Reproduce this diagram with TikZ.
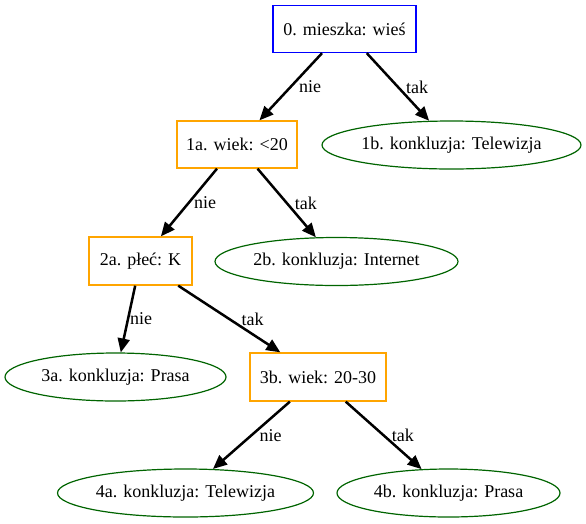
\documentclass[tikz,border=0pt]{standalone}
\usepackage{fontspec}
\setmainfont{Liberation Serif}
\usetikzlibrary{arrows.meta,shapes.geometric}

\definecolor{gvorange}{HTML}{FFA500}
\definecolor{gvblue}{HTML}{0000FF}
\definecolor{gvgreen}{HTML}{006400}

\tikzset{
  question/.style={draw=gvorange, line width=1.3pt, rectangle, inner sep=0pt,
    minimum height=47pt, font=\fontsize{18}{20}\selectfont},
  conclusion/.style={draw=gvgreen, line width=1.2pt, ellipse, inner sep=0pt,
    minimum height=48pt, font=\fontsize{18}{20}\selectfont},
  answer/.style={midway, anchor=west, inner sep=0pt, xshift=7pt,
    font=\fontsize{18}{20}\selectfont},
}

\begin{document}
\begin{tikzpicture}[x=1pt, y=-1pt, >={Triangle[length=14pt,width=12pt]}]
      \useasboundingbox (0, 0) rectangle (586, 523);

      \node[question, draw=gvblue, minimum width=143pt] (n0) at (344.5, 29) {0. mieszka: wieś};

      \node[question, minimum width=120pt] (n1a) at (237, 144.5) {1a. wiek: <20};
      \node[conclusion, minimum width=259pt] (n1b) at (451.5, 145) {1b. konkluzja: Telewizja};

      \node[question, minimum width=103pt, minimum height=48pt] (n2a) at (140.5, 261) {2a. płeć: K};
      \node[conclusion, minimum width=243pt] (n2b) at (336.5, 261.5) {2b. konkluzja: Internet};

      \node[conclusion, minimum width=221pt] (n3a) at (115.5, 377) {3a. konkluzja: Prasa};
      \node[question, minimum width=136pt, minimum height=48pt] (n3b) at (318, 377) {3b. wiek: 20-30};

      \node[conclusion, minimum width=256pt] (n4a) at (185.5, 493) {4a. konkluzja: Telewizja};
      \node[conclusion, minimum width=223pt] (n4b) at (448.5, 493) {4b. konkluzja: Prasa};

      \begin{scope}[line width=2.5pt]
        \draw[->] (n0) -- (n1a) node[answer] {nie};
        \draw[->] (n0) -- (n1b) node[answer] {tak};
        \draw[->] (n1a) -- (n2a) node[answer, xshift=-3pt] {nie};
        \draw[->] (n1a) -- (n2b) node[answer] {tak};
        \draw[->] (n2a) -- (n3a) node[answer, xshift=-6pt] {nie};
        \draw[->] (n2a) -- (n3b) node[answer, xshift=4pt] {tak};
        \draw[->] (n3b) -- (n4a) node[answer] {nie};
        \draw[->] (n3b) -- (n4b) node[answer] {tak};
      \end{scope}
    \end{tikzpicture}
\end{document}
